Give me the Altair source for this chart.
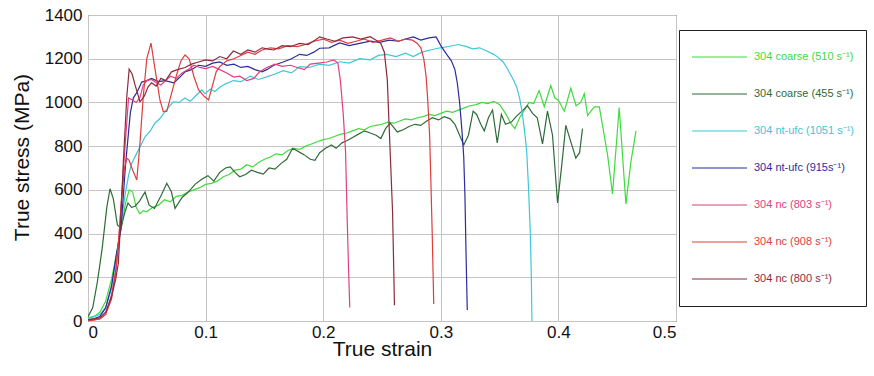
import altair as alt
import pandas as pd

SERIES = [
    "304 coarse (510 s\u207b\u00b9)",
    "304 coarse (455 s\u207b\u00b9)",
    "304 nt-ufc (1051 s\u207b\u00b9)",
    "304 nt-ufc (915s\u207b\u00b9)",
    "304 nc (803 s\u207b\u00b9)",
    "304 nc (908 s\u207b\u00b9)",
    "304 nc (800 s\u207b\u00b9)",
]
COLORS = ["#3ddc3d", "#2f6b38", "#3cc8d8", "#2c2c9c", "#e0407f", "#e03c3c", "#8c2a3c"]

X_TICKS = [0, 0.1, 0.2, 0.3, 0.4, 0.5]
Y_TICKS = [0, 200, 400, 600, 800, 1000, 1200, 1400]

coarse510_strain = [0, 0.005, 0.01, 0.015, 0.02, 0.024, 0.028, 0.032, 0.035, 0.038,
    0.041, 0.044, 0.047, 0.05, 0.055, 0.06, 0.065, 0.07, 0.075, 0.08,
    0.085, 0.09, 0.095, 0.1, 0.105, 0.11, 0.115, 0.12, 0.125, 0.13,
    0.135, 0.14, 0.145, 0.15, 0.155, 0.16, 0.165, 0.17, 0.175, 0.18,
    0.185, 0.19, 0.195, 0.2, 0.205, 0.21, 0.215, 0.22, 0.225, 0.23,
    0.235, 0.24, 0.245, 0.25, 0.255, 0.26, 0.265, 0.27, 0.275, 0.28,
    0.285, 0.29, 0.295, 0.3, 0.305, 0.31, 0.315, 0.32, 0.325, 0.33,
    0.335, 0.34, 0.345, 0.35, 0.355, 0.36, 0.363, 0.367, 0.371, 0.375,
    0.379, 0.3836, 0.388, 0.3935, 0.397, 0.4, 0.405, 0.4106, 0.415, 0.419,
    0.422, 0.4248, 0.4305, 0.4348, 0.4418, 0.446, 0.4517, 0.4574, 0.4617, 0.466]
coarse510_stress = [15, 20, 40, 90, 190, 300, 420, 540, 600, 590,
    520, 490, 505, 500, 520, 530, 555, 545, 570, 575,
    590, 600, 610, 625, 630, 640, 660, 670, 690, 695,
    715, 705, 725, 740, 750, 765, 760, 780, 790, 785,
    800, 810, 820, 830, 835, 845, 855, 860, 870, 880,
    875, 890, 895, 900, 910, 905, 915, 925, 920, 930,
    935, 945, 940, 950, 960, 955, 965, 975, 985, 990,
    1000, 995, 1005, 990, 950, 900, 880, 930, 965, 1000,
    995, 1054, 980, 1077, 1020, 1010, 960, 1065, 985, 1000,
    1040, 940, 980, 980, 760, 581, 977, 535, 730, 870]

coarse455_strain = [0, 0.004, 0.008, 0.012, 0.016, 0.0187, 0.0215, 0.025, 0.028, 0.0315,
    0.034, 0.037, 0.04, 0.044, 0.0485, 0.052, 0.0565, 0.0627, 0.067, 0.071,
    0.074, 0.08, 0.0853, 0.091, 0.097, 0.102, 0.107, 0.112, 0.117, 0.121,
    0.125, 0.129, 0.134, 0.139, 0.144, 0.149, 0.154, 0.159, 0.164, 0.169,
    0.174, 0.179, 0.184, 0.189, 0.193, 0.197, 0.202, 0.207, 0.211, 0.216,
    0.22, 0.225, 0.23, 0.235, 0.24, 0.245, 0.249, 0.253, 0.257, 0.263,
    0.268, 0.273, 0.278, 0.283, 0.288, 0.293, 0.298, 0.303, 0.308, 0.312,
    0.316, 0.3195, 0.3235, 0.3275, 0.3305, 0.334, 0.337, 0.3405, 0.344, 0.348,
    0.3515, 0.355, 0.36, 0.364, 0.369, 0.3737, 0.378, 0.382, 0.3865, 0.3907,
    0.395, 0.3993, 0.403, 0.4063, 0.41, 0.4148, 0.418, 0.4205]
coarse455_stress = [20, 60, 180, 330, 520, 605, 560, 440, 425, 500,
    540, 520, 525, 550, 590, 530, 515, 580, 630, 590,
    515, 565, 590, 625, 650, 665, 640, 680, 700, 705,
    680, 660, 670, 690, 680, 672, 700, 695, 720, 740,
    790, 775, 760, 740, 735, 770, 790, 805, 790, 815,
    825, 840, 855, 870, 860, 850, 835, 880, 905, 865,
    875, 890, 900, 895, 915, 930, 920, 935, 925, 900,
    850, 805, 850, 960, 945, 900, 870, 930, 965, 815,
    945, 900, 910, 935, 960, 985, 950, 930, 810, 960,
    850, 540, 720, 895, 830, 745, 770, 880]

ntufc1051_strain = [0, 0.005, 0.01, 0.015, 0.02, 0.024, 0.028, 0.031, 0.0343, 0.037,
    0.04, 0.0445, 0.0485, 0.053, 0.057, 0.061, 0.0655, 0.0725, 0.0775, 0.0825,
    0.087, 0.091, 0.0967, 0.0995, 0.104, 0.108, 0.112, 0.117, 0.1236, 0.13,
    0.138, 0.145, 0.152, 0.159, 0.166, 0.173, 0.18, 0.188, 0.197, 0.205,
    0.2143, 0.222, 0.231, 0.24, 0.247, 0.254, 0.262, 0.27, 0.2766, 0.284,
    0.291, 0.2995, 0.3078, 0.315, 0.322, 0.327, 0.333, 0.339, 0.345, 0.349,
    0.353, 0.356, 0.359, 0.362, 0.3646, 0.367, 0.369, 0.371, 0.373, 0.3745,
    0.376, 0.377, 0.3775]
ntufc1051_stress = [10, 20, 30, 60, 150, 290, 430, 560, 660, 720,
    752, 800, 843, 870, 906, 925, 958, 1003, 1000, 1020,
    1005, 1027, 1057, 1040, 1060, 1050, 1069, 1085, 1100, 1095,
    1120, 1105, 1117, 1130, 1145, 1135, 1164, 1160, 1175, 1170,
    1186, 1180, 1200, 1195, 1215, 1220, 1210, 1225, 1210, 1230,
    1240, 1250, 1257, 1265, 1255, 1245, 1250, 1235, 1220, 1205,
    1185, 1160, 1130, 1100, 1070, 1020, 960, 880, 780, 620,
    420, 200, 0]

ntufc915_strain = [0, 0.005, 0.01, 0.015, 0.02, 0.024, 0.028, 0.032, 0.036, 0.0385,
    0.042, 0.0457, 0.05, 0.054, 0.06, 0.0655, 0.073, 0.078, 0.0825, 0.088,
    0.094, 0.1, 0.106, 0.112, 0.118, 0.124, 0.13, 0.136, 0.142, 0.148,
    0.152, 0.158, 0.166, 0.173, 0.18, 0.186, 0.192, 0.197, 0.205, 0.214,
    0.222, 0.231, 0.24, 0.248, 0.256, 0.264, 0.27, 0.2766, 0.283, 0.29,
    0.296, 0.3, 0.305, 0.309, 0.312, 0.314, 0.316, 0.318, 0.3195, 0.3205,
    0.3215, 0.3225]
ntufc915_stress = [5, 10, 20, 60, 160, 300, 420, 720, 952, 1020,
    1050, 1093, 1100, 1110, 1095, 1100, 1090, 1115, 1140, 1150,
    1170, 1165, 1180, 1185, 1170, 1175, 1160, 1165, 1150, 1140,
    1150, 1170, 1185, 1200, 1220, 1215, 1230, 1248, 1250, 1272,
    1260, 1270, 1280, 1275, 1285, 1280, 1290, 1300, 1285, 1295,
    1300, 1260, 1220, 1190, 1150, 1090, 1000, 870, 750, 580,
    300, 50]

nc803_strain = [0, 0.005, 0.01, 0.015, 0.02, 0.0235, 0.0258, 0.029, 0.0315, 0.0345,
    0.038, 0.041, 0.044, 0.047, 0.05, 0.054, 0.058, 0.062, 0.066, 0.07,
    0.075, 0.08, 0.085, 0.09, 0.095, 0.1, 0.106, 0.112, 0.118, 0.124,
    0.129, 0.135, 0.141, 0.146, 0.152, 0.159, 0.165, 0.172, 0.178, 0.184,
    0.189, 0.196, 0.203, 0.209, 0.2125, 0.2146, 0.217, 0.219, 0.2204, 0.2215,
    0.2226]
nc803_stress = [0, 5, 10, 30, 120, 220, 340, 600, 800, 1020,
    1010, 1000, 1020, 1080, 1100, 1105, 1090, 1080, 1100, 1120,
    1110, 1135, 1150, 1170, 1160, 1155, 1165, 1150, 1135, 1116,
    1120, 1100, 1110, 1140, 1160, 1175, 1165, 1170, 1160, 1150,
    1175, 1180, 1185, 1194, 1180, 1101, 950, 776, 465, 250,
    62]

nc908_strain = [0, 0.005, 0.01, 0.015, 0.02, 0.024, 0.0265, 0.0287, 0.031, 0.033,
    0.035, 0.038, 0.0415, 0.044, 0.047, 0.05, 0.0536, 0.057, 0.0612, 0.064,
    0.067, 0.071, 0.075, 0.079, 0.0825, 0.086, 0.09, 0.094, 0.099, 0.1025,
    0.106, 0.109, 0.112, 0.118, 0.124, 0.13, 0.136, 0.142, 0.148, 0.155,
    0.162, 0.17, 0.178, 0.185, 0.192, 0.2, 0.207, 0.214, 0.221, 0.228,
    0.235, 0.242, 0.25, 0.257, 0.264, 0.27, 0.276, 0.28, 0.283, 0.2855,
    0.2875, 0.289, 0.2905, 0.2915, 0.2927, 0.294]
nc908_stress = [0, 5, 10, 30, 100, 250, 400, 569, 700, 745,
    735, 690, 645, 800, 1027, 1200, 1271, 1152, 1010, 958,
    960, 1040, 1120, 1190, 1217, 1200, 1120, 1057, 1027, 1011,
    1080, 1140, 1164, 1190, 1200, 1215, 1230, 1220, 1240, 1250,
    1245, 1260, 1255, 1265, 1280, 1290, 1275, 1285, 1270, 1280,
    1290, 1275, 1285, 1295, 1280, 1290, 1285, 1270, 1250, 1200,
    1120, 1000, 850, 651, 400, 78]

nc800_strain = [0, 0.005, 0.01, 0.015, 0.02, 0.0235, 0.0258, 0.028, 0.030, 0.033,
    0.035, 0.0375, 0.040, 0.0442, 0.048, 0.051, 0.054, 0.058, 0.062, 0.066,
    0.071, 0.076, 0.0825, 0.088, 0.094, 0.1, 0.106, 0.112, 0.118, 0.1236,
    0.13, 0.136, 0.142, 0.148, 0.152, 0.158, 0.165, 0.172, 0.18, 0.187,
    0.193, 0.197, 0.203, 0.21, 0.217, 0.225, 0.232, 0.24, 0.245, 0.249,
    0.252, 0.2545, 0.256, 0.2575, 0.259, 0.2606]
nc800_stress = [5, 10, 15, 40, 110, 190, 264, 480, 723, 1027,
    1152, 1130, 1080, 1003, 1030, 1070, 1090, 1075, 1110, 1100,
    1140, 1150, 1160, 1175, 1185, 1195, 1190, 1210, 1200, 1235,
    1220, 1240, 1230, 1250, 1245, 1240, 1260, 1255, 1270, 1265,
    1285, 1300, 1290, 1280, 1295, 1300, 1290, 1301, 1285, 1270,
    1230, 1103, 900, 700, 496, 72]

STRAINS = [coarse510_strain, coarse455_strain, ntufc1051_strain, ntufc915_strain,
           nc803_strain, nc908_strain, nc800_strain]
STRESSES = [coarse510_stress, coarse455_stress, ntufc1051_stress, ntufc915_stress,
            nc803_stress, nc908_stress, nc800_stress]

rows = []
for name, xs, ys in zip(SERIES, STRAINS, STRESSES):
    n = min(len(xs), len(ys))
    for i in range(n):
        rows.append({"series": name, "strain": xs[i], "stress": ys[i], "idx": i})
df = pd.DataFrame(rows)

FONT = "Liberation Sans"

lines = alt.Chart(df).mark_line(strokeWidth=1.2, clip=True).encode(
    x=alt.X("strain:Q",
            scale=alt.Scale(domain=[0, 0.5], nice=False, zero=False),
            axis=alt.Axis(values=X_TICKS, format="~g", title="True strain",
                          labelPadding=3, titleX=294, titleY=28,
                          titleBaseline="middle", titleAlign="center")),
    y=alt.Y("stress:Q",
            scale=alt.Scale(domain=[0, 1400], nice=False),
            axis=alt.Axis(values=Y_TICKS, format="d", title="True stress (MPa)",
                          labelPadding=6, titleX=-66, titleY=142,
                          titleAngle=-90, titleBaseline="middle", titleAlign="center")),
    color=alt.Color("series:N",
                    scale=alt.Scale(domain=SERIES, range=COLORS),
                    sort=SERIES,
                    legend=alt.Legend(
                        orient="none", legendX=591, legendY=15, direction="vertical",
                        title=None, symbolType="stroke", symbolSize=3025,
                        symbolStrokeWidth=1.2, clipHeight=30, rowPadding=7,
                        labelOffset=6, labelFontSize=11, labelFont=FONT, labelLimit=0,
                        labelColor=alt.ExprRef(expr="scale('color', datum.value)"),
                        strokeColor="#222222", padding=12)),
    order=alt.Order("idx:Q"),
)

chart = lines.properties(
    width=588, height=306,
    padding={"left": 88, "top": 15, "right": 198, "bottom": 55},
    autosize=alt.AutoSizeParams(type="none"),
    background="white",
).configure_view(
    stroke="#333333", strokeWidth=1
).configure_axis(
    grid=True, gridColor="#c4c4c4", gridWidth=1,
    domain=False, ticks=False, tickSize=0,
    labelFont=FONT, labelFontSize=17, labelColor="#111111",
    titleFont=FONT, titleFontSize=21, titleFontWeight="normal", titleColor="#111111",
)

chart.save("out.html", embed_options={"renderer": "svg", "actions": False})
